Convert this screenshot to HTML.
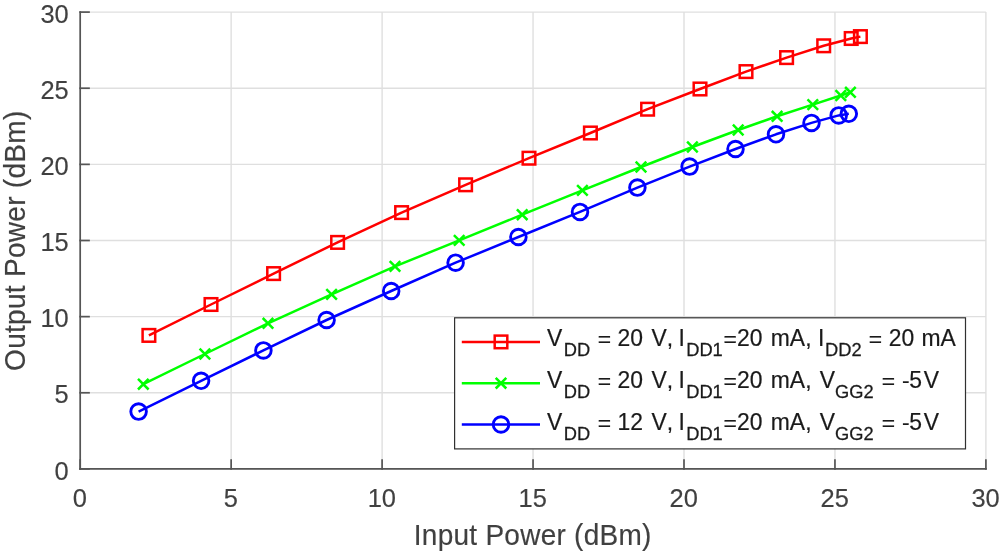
<!DOCTYPE html>
<html lang="en">
<head>
<meta charset="utf-8">
<title>Output Power vs Input Power</title>
<style>
html,body{margin:0;padding:0;background:#fff;}
body{width:1000px;height:552px;overflow:hidden;}
svg{display:block;}
text{font-family:"Liberation Sans",Arial,Helvetica,sans-serif;fill:#404040;stroke:#404040;stroke-width:0.15px;font-kerning:none;}
.tick{font-size:25.45px;}
.lab{font-size:28px;}
.leg{font-size:22.9px;fill:#1a1a1a;stroke:#1a1a1a;stroke-width:0.2px;}
.sub{font-size:18.3px;fill:#1a1a1a;stroke:#1a1a1a;stroke-width:0.25px;}
</style>
</head>
<body>
<svg width="1000" height="552" viewBox="0 0 1000 552">
<rect x="0" y="0" width="1000" height="552" fill="#ffffff"/>

<g stroke="#dfdfdf" stroke-width="1.4" fill="none">
<line x1="80.20" y1="12.10" x2="80.20" y2="468.90"/>
<line x1="80.20" y1="468.90" x2="985.90" y2="468.90"/>
<line x1="231.15" y1="12.10" x2="231.15" y2="468.90"/>
<line x1="80.20" y1="392.77" x2="985.90" y2="392.77"/>
<line x1="382.10" y1="12.10" x2="382.10" y2="468.90"/>
<line x1="80.20" y1="316.63" x2="985.90" y2="316.63"/>
<line x1="533.05" y1="12.10" x2="533.05" y2="468.90"/>
<line x1="80.20" y1="240.50" x2="985.90" y2="240.50"/>
<line x1="684.00" y1="12.10" x2="684.00" y2="468.90"/>
<line x1="80.20" y1="164.37" x2="985.90" y2="164.37"/>
<line x1="834.95" y1="12.10" x2="834.95" y2="468.90"/>
<line x1="80.20" y1="88.23" x2="985.90" y2="88.23"/>
<line x1="985.90" y1="12.10" x2="985.90" y2="468.90"/>
<line x1="80.20" y1="12.10" x2="985.90" y2="12.10"/>
</g>
<g stroke="#555555" stroke-width="1.7" fill="none" stroke-linecap="square">
<line x1="80.20" y1="12.10" x2="80.20" y2="468.90"/>
<line x1="80.20" y1="468.90" x2="985.90" y2="468.90"/>
<line x1="80.20" y1="468.90" x2="80.20" y2="460.10"/>
<line x1="80.20" y1="468.90" x2="89.00" y2="468.90"/>
<line x1="231.15" y1="468.90" x2="231.15" y2="460.10"/>
<line x1="80.20" y1="392.77" x2="89.00" y2="392.77"/>
<line x1="382.10" y1="468.90" x2="382.10" y2="460.10"/>
<line x1="80.20" y1="316.63" x2="89.00" y2="316.63"/>
<line x1="533.05" y1="468.90" x2="533.05" y2="460.10"/>
<line x1="80.20" y1="240.50" x2="89.00" y2="240.50"/>
<line x1="684.00" y1="468.90" x2="684.00" y2="460.10"/>
<line x1="80.20" y1="164.37" x2="89.00" y2="164.37"/>
<line x1="834.95" y1="468.90" x2="834.95" y2="460.10"/>
<line x1="80.20" y1="88.23" x2="89.00" y2="88.23"/>
<line x1="985.90" y1="468.90" x2="985.90" y2="460.10"/>
<line x1="80.20" y1="12.10" x2="89.00" y2="12.10"/>
</g>
<g class="tick">
<text transform="translate(79.90 506.5) scale(1 1.03)" text-anchor="middle">0</text>
<text transform="translate(68.7 479.60) scale(1 1.03)" text-anchor="end">0</text>
<text transform="translate(230.85 506.5) scale(1 1.03)" text-anchor="middle">5</text>
<text transform="translate(68.7 403.47) scale(1 1.03)" text-anchor="end">5</text>
<text transform="translate(381.80 506.5) scale(1 1.03)" text-anchor="middle">10</text>
<text transform="translate(68.7 327.33) scale(1 1.03)" text-anchor="end">10</text>
<text transform="translate(532.75 506.5) scale(1 1.03)" text-anchor="middle">15</text>
<text transform="translate(68.7 251.20) scale(1 1.03)" text-anchor="end">15</text>
<text transform="translate(683.70 506.5) scale(1 1.03)" text-anchor="middle">20</text>
<text transform="translate(68.7 175.07) scale(1 1.03)" text-anchor="end">20</text>
<text transform="translate(834.65 506.5) scale(1 1.03)" text-anchor="middle">25</text>
<text transform="translate(68.7 98.93) scale(1 1.03)" text-anchor="end">25</text>
<text transform="translate(985.60 506.5) scale(1 1.03)" text-anchor="middle">30</text>
<text transform="translate(68.7 22.80) scale(1 1.03)" text-anchor="end">30</text>
</g>
<text class="lab" transform="translate(532.7 545.1) scale(1 1.04)" text-anchor="middle" letter-spacing="0.27">Input Power (dBm)</text>
<text class="lab" transform="translate(25.2 240.7) rotate(-90) scale(1 1.04)" text-anchor="middle" letter-spacing="0.3">Output Power (dBm)</text>
<g stroke="#ff0000" stroke-width="2.50" fill="none">
<polyline stroke-linejoin="round" points="148.9,335.4 211.0,304.5 273.6,273.6 337.6,242.4 401.6,212.6 465.6,184.8 529.0,158.2 590.4,133.0 647.6,109.2 700.0,89.0 746.0,71.6 786.6,57.6 823.7,45.8 851.2,38.5 860.4,36.6"/>
<rect x="142.60" y="329.10" width="12.60" height="12.60"/>
<rect x="204.70" y="298.20" width="12.60" height="12.60"/>
<rect x="267.30" y="267.30" width="12.60" height="12.60"/>
<rect x="331.30" y="236.10" width="12.60" height="12.60"/>
<rect x="395.30" y="206.30" width="12.60" height="12.60"/>
<rect x="459.30" y="178.50" width="12.60" height="12.60"/>
<rect x="522.70" y="151.90" width="12.60" height="12.60"/>
<rect x="584.10" y="126.70" width="12.60" height="12.60"/>
<rect x="641.30" y="102.90" width="12.60" height="12.60"/>
<rect x="693.70" y="82.70" width="12.60" height="12.60"/>
<rect x="739.70" y="65.30" width="12.60" height="12.60"/>
<rect x="780.30" y="51.30" width="12.60" height="12.60"/>
<rect x="817.40" y="39.50" width="12.60" height="12.60"/>
<rect x="844.90" y="32.20" width="12.60" height="12.60"/>
<rect x="854.10" y="30.30" width="12.60" height="12.60"/>
</g>
<g stroke="#00ff00" stroke-width="2.50" fill="none">
<polyline stroke-linejoin="round" points="143.3,384.2 204.9,354.0 268.0,323.3 331.6,294.4 395.0,266.4 459.2,240.4 522.2,214.7 582.4,190.4 641.0,167.0 692.4,147.0 738.2,130.0 777.1,116.3 812.8,104.6 840.8,95.5 850.4,92.3"/>
<path d="M138.00 378.90L148.60 389.50M138.00 389.50L148.60 378.90"/>
<path d="M199.60 348.70L210.20 359.30M199.60 359.30L210.20 348.70"/>
<path d="M262.70 318.00L273.30 328.60M262.70 328.60L273.30 318.00"/>
<path d="M326.30 289.10L336.90 299.70M326.30 299.70L336.90 289.10"/>
<path d="M389.70 261.10L400.30 271.70M389.70 271.70L400.30 261.10"/>
<path d="M453.90 235.10L464.50 245.70M453.90 245.70L464.50 235.10"/>
<path d="M516.90 209.40L527.50 220.00M516.90 220.00L527.50 209.40"/>
<path d="M577.10 185.10L587.70 195.70M577.10 195.70L587.70 185.10"/>
<path d="M635.70 161.70L646.30 172.30M635.70 172.30L646.30 161.70"/>
<path d="M687.10 141.70L697.70 152.30M687.10 152.30L697.70 141.70"/>
<path d="M732.90 124.70L743.50 135.30M732.90 135.30L743.50 124.70"/>
<path d="M771.80 111.00L782.40 121.60M771.80 121.60L782.40 111.00"/>
<path d="M807.50 99.30L818.10 109.90M807.50 109.90L818.10 99.30"/>
<path d="M835.50 90.20L846.10 100.80M835.50 100.80L846.10 90.20"/>
<path d="M845.10 87.00L855.70 97.60M845.10 97.60L855.70 87.00"/>
</g>
<g stroke="#0000ff" stroke-width="2.50" fill="none">
<polyline stroke-linejoin="round" points="138.6,411.6 201.1,380.8 263.4,350.4 326.6,320.0 391.2,291.0 455.6,262.7 518.4,237.0 580.0,211.9 637.4,187.6 689.6,166.6 735.5,149.0 776.0,134.3 811.5,122.9 838.7,115.4 848.8,113.8"/>
<circle cx="138.60" cy="411.60" r="7.80" stroke-width="2.9"/>
<circle cx="201.10" cy="380.80" r="7.80" stroke-width="2.9"/>
<circle cx="263.40" cy="350.40" r="7.80" stroke-width="2.9"/>
<circle cx="326.60" cy="320.00" r="7.80" stroke-width="2.9"/>
<circle cx="391.20" cy="291.00" r="7.80" stroke-width="2.9"/>
<circle cx="455.60" cy="262.70" r="7.80" stroke-width="2.9"/>
<circle cx="518.40" cy="237.00" r="7.80" stroke-width="2.9"/>
<circle cx="580.00" cy="211.90" r="7.80" stroke-width="2.9"/>
<circle cx="637.40" cy="187.60" r="7.80" stroke-width="2.9"/>
<circle cx="689.60" cy="166.60" r="7.80" stroke-width="2.9"/>
<circle cx="735.50" cy="149.00" r="7.80" stroke-width="2.9"/>
<circle cx="776.00" cy="134.30" r="7.80" stroke-width="2.9"/>
<circle cx="811.50" cy="122.90" r="7.80" stroke-width="2.9"/>
<circle cx="838.70" cy="115.40" r="7.80" stroke-width="2.9"/>
<circle cx="848.80" cy="113.80" r="7.80" stroke-width="2.9"/>
</g>
<rect x="454.60" y="317.80" width="510.90" height="131.10" fill="#ffffff" stroke="#303030" stroke-width="1.2"/>
<g stroke="#ff0000" stroke-width="2.50" fill="none">
<line x1="461.8" y1="341.90" x2="540" y2="341.90"/>
<rect x="494.70" y="335.60" width="12.60" height="12.60"/>
</g>
<g stroke="#00ff00" stroke-width="2.50" fill="none">
<line x1="461.8" y1="383.20" x2="540" y2="383.20"/>
<path d="M495.70 377.90L506.30 388.50M495.70 388.50L506.30 377.90"/>
</g>
<g stroke="#0000ff" stroke-width="2.50" fill="none">
<line x1="461.8" y1="424.50" x2="540" y2="424.50"/>
<circle cx="501.00" cy="424.50" r="7.80" stroke-width="2.9"/>
</g>
<text class="leg" transform="translate(547.10 345.50) scale(1 1.010)">V</text>
<text class="sub" transform="translate(563.70 356.30) scale(1 1.010)">DD</text>
<text class="leg" x="597.70" y="347.20">=</text>
<text class="leg" transform="translate(617.55 345.50) scale(1 1.010)">20</text>
<text class="leg" transform="translate(651.40 345.50) scale(1 1.010)">V,</text>
<text class="leg" transform="translate(678.60 345.50) scale(1 1.010)">I</text>
<text class="sub" transform="translate(686.20 356.30) scale(1 1.010)">DD1</text>
<text class="leg" x="723.50" y="347.20">=</text>
<text class="leg" transform="translate(736.95 345.50) scale(1 1.010)">20</text>
<text class="leg" transform="translate(770.80 345.50) scale(1 1.010)">mA,</text>
<text class="leg" transform="translate(818.10 345.50) scale(1 1.010)">I</text>
<text class="sub" transform="translate(825.10 356.30) scale(1 1.010)">DD2</text>
<text class="leg" x="868.70" y="347.20">=</text>
<text class="leg" transform="translate(888.85 345.50) scale(1 1.010)">20</text>
<text class="leg" transform="translate(921.40 345.50) scale(1 1.010)">mA</text>
<text class="leg" transform="translate(547.10 387.50) scale(1 1.010)">V</text>
<text class="sub" transform="translate(563.70 398.30) scale(1 1.010)">DD</text>
<text class="leg" x="597.70" y="389.20">=</text>
<text class="leg" transform="translate(617.55 387.50) scale(1 1.010)">20</text>
<text class="leg" transform="translate(651.40 387.50) scale(1 1.010)">V,</text>
<text class="leg" transform="translate(678.60 387.50) scale(1 1.010)">I</text>
<text class="sub" transform="translate(686.20 398.30) scale(1 1.010)">DD1</text>
<text class="leg" x="723.50" y="389.20">=</text>
<text class="leg" transform="translate(736.95 387.50) scale(1 1.010)">20</text>
<text class="leg" transform="translate(770.80 387.50) scale(1 1.010)">mA,</text>
<text class="leg" transform="translate(819.70 387.50) scale(1 1.010)">V</text>
<text class="sub" transform="translate(835.10 398.30) scale(1 1.010)">GG2</text>
<text class="leg" x="881.70" y="389.20">=</text>
<text class="leg" x="902.00" y="388.10">-</text>
<text class="leg" transform="translate(909.30 387.50) scale(1 1.010)">5</text>
<text class="leg" transform="translate(923.80 387.50) scale(1 1.010)">V</text>
<text class="leg" transform="translate(547.10 429.50) scale(1 1.010)">V</text>
<text class="sub" transform="translate(563.70 440.30) scale(1 1.010)">DD</text>
<text class="leg" x="597.70" y="431.20">=</text>
<text class="leg" transform="translate(617.55 429.50) scale(1 1.010)">12</text>
<text class="leg" transform="translate(651.40 429.50) scale(1 1.010)">V,</text>
<text class="leg" transform="translate(678.60 429.50) scale(1 1.010)">I</text>
<text class="sub" transform="translate(686.20 440.30) scale(1 1.010)">DD1</text>
<text class="leg" x="723.50" y="431.20">=</text>
<text class="leg" transform="translate(736.95 429.50) scale(1 1.010)">20</text>
<text class="leg" transform="translate(770.80 429.50) scale(1 1.010)">mA,</text>
<text class="leg" transform="translate(819.70 429.50) scale(1 1.010)">V</text>
<text class="sub" transform="translate(835.10 440.30) scale(1 1.010)">GG2</text>
<text class="leg" x="881.70" y="431.20">=</text>
<text class="leg" x="902.00" y="430.10">-</text>
<text class="leg" transform="translate(909.30 429.50) scale(1 1.010)">5</text>
<text class="leg" transform="translate(923.80 429.50) scale(1 1.010)">V</text>
</svg>
</body>
</html>
